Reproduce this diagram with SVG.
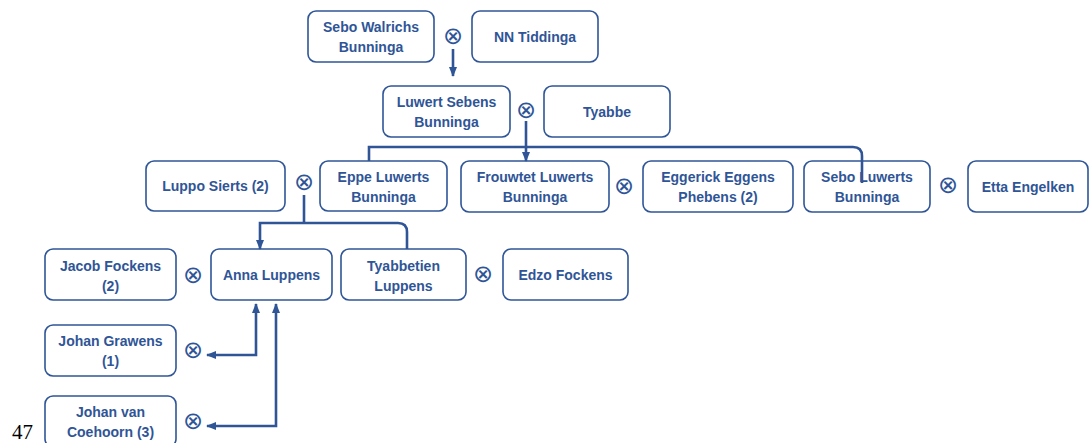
<svg xmlns="http://www.w3.org/2000/svg" width="1089" height="443" viewBox="0 0 1089 443">
<defs>
<marker id="ah" viewBox="0 0 10 8" refX="9" refY="4" markerWidth="10" markerHeight="8" markerUnits="userSpaceOnUse" orient="auto-start-reverse">
<path d="M0,0 L10,4 L0,8 Z" fill="#2F5597"/>
</marker>
<style>
.box{fill:#fff;stroke:#2F5597;stroke-width:1.6}
.t{font-family:"Liberation Sans",Arial,sans-serif;font-weight:bold;font-size:14px;fill:#2F5597;text-anchor:middle}
.x{font-family:"DejaVu Sans",sans-serif;font-size:24px;fill:#2F5597;text-anchor:middle}
.c{fill:none;stroke:#2F5597;stroke-width:2.6}
</style>
</defs>
<rect width="1089" height="443" fill="#fff"/>
<g id="sebo-walrichs"><rect class="box" x="308" y="11" width="126" height="51" rx="8"/><text class="t" x="371" y="32">Sebo Walrichs</text><text class="t" x="371" y="52">Bunninga</text></g>
<text class="x" x="453" y="44">⊗</text>
<g id="nn-tiddinga"><rect class="box" x="472" y="11" width="126" height="51" rx="8"/><text class="t" x="535" y="42">NN Tiddinga</text></g>
<g id="luwert-sebens"><rect class="box" x="383" y="86" width="127" height="51" rx="8"/><text class="t" x="446.5" y="107">Luwert Sebens</text><text class="t" x="446.5" y="127">Bunninga</text></g>
<text class="x" x="526" y="118">⊗</text>
<g id="tyabbe"><rect class="box" x="544" y="86" width="126" height="51" rx="8"/><text class="t" x="607" y="117">Tyabbe</text></g>
<g id="luppo-sierts"><rect class="box" x="146" y="161" width="139" height="50" rx="8"/><text class="t" x="215.5" y="191">Luppo Sierts (2)</text></g>
<text class="x" x="304" y="190">⊗</text>
<g id="eppe-luwerts"><rect class="box" x="320" y="161" width="127" height="50" rx="8"/><text class="t" x="383.5" y="182">Eppe Luwerts</text><text class="t" x="383.5" y="202">Bunninga</text></g>
<g id="frouwtet-luwerts"><rect class="box" x="461" y="161" width="148" height="51" rx="8"/><text class="t" x="535" y="182">Frouwtet Luwerts</text><text class="t" x="535" y="202">Bunninga</text></g>
<text class="x" x="624" y="194">⊗</text>
<g id="eggerick-eggens"><rect class="box" x="643" y="161" width="150" height="51" rx="8"/><text class="t" x="718" y="182">Eggerick Eggens</text><text class="t" x="718" y="202">Phebens (2)</text></g>
<g id="sebo-luwerts"><rect class="box" x="804" y="161" width="126" height="51" rx="8"/><text class="t" x="867" y="182">Sebo Luwerts</text><text class="t" x="867" y="202">Bunninga</text></g>
<text class="x" x="948" y="193">⊗</text>
<g id="etta-engelken"><rect class="box" x="968" y="161" width="120" height="51" rx="8"/><text class="t" x="1028" y="192">Etta Engelken</text></g>
<g id="jacob-fockens"><rect class="box" x="45" y="249" width="131" height="51" rx="8"/><text class="t" x="110.5" y="271">Jacob Fockens</text><text class="t" x="110.5" y="291">(2)</text></g>
<text class="x" x="193" y="283">⊗</text>
<g id="anna-luppens"><rect class="box" x="211" y="249" width="121" height="51" rx="8"/><text class="t" x="271.5" y="280">Anna Luppens</text></g>
<g id="tyabbetien-luppens"><rect class="box" x="341" y="249" width="125" height="51" rx="8"/><text class="t" x="403.5" y="271">Tyabbetien</text><text class="t" x="403.5" y="291">Luppens</text></g>
<text class="x" x="483" y="282">⊗</text>
<g id="edzo-fockens"><rect class="box" x="503" y="249" width="125" height="51" rx="8"/><text class="t" x="565.5" y="280">Edzo Fockens</text></g>
<g id="johan-grawens"><rect class="box" x="45" y="325" width="131" height="51" rx="8"/><text class="t" x="110.5" y="346">Johan Grawens</text><text class="t" x="110.5" y="366">(1)</text></g>
<text class="x" x="193" y="358">⊗</text>
<g id="johan-van-coehoorn"><rect class="box" x="45" y="396" width="131" height="51" rx="8"/><text class="t" x="110.5" y="417">Johan van</text><text class="t" x="110.5" y="437">Coehoorn (3)</text></g>
<text class="x" x="193" y="429">⊗</text>
<text x="12" y="439" font-family="'Liberation Serif','Times New Roman',serif" font-size="21" fill="#000">47</text>
<g id="connectors">
<path class="c" d="M453,49 V76" marker-end="url(#ah)"/>
<path class="c" d="M526,121 V161" marker-end="url(#ah)"/>
<path class="c" d="M369,161 V147 H853 Q862,147 862,156 V183"/>
<path class="c" d="M304,195 V223"/>
<path class="c" d="M260,249 V223 H398 Q407,223 407,232 V249" marker-start="url(#ah)"/>
<path class="c" d="M207,355 H256 V304" marker-start="url(#ah)" marker-end="url(#ah)"/>
<path class="c" d="M207,426 H276 V304" marker-start="url(#ah)" marker-end="url(#ah)"/>
</g>
</svg>
